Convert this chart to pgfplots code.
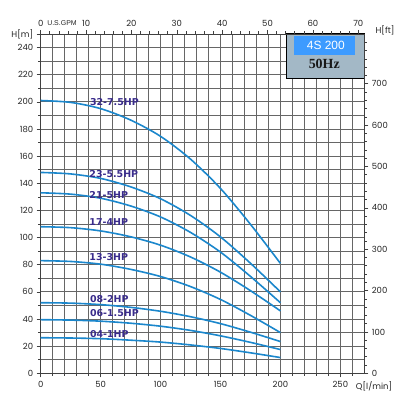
\documentclass[border=0pt]{standalone}
\usepackage{pgfplots}
\pgfplotsset{compat=1.18}
\usepackage{fontspec}
\setmainfont{Poppins}
\newfontfamily\labfont{DejaVu Sans}
\newfontfamily\narrowfont{Liberation Sans}
\newfontfamily\seriffont{Liberation Serif}
\definecolor{curve}{HTML}{1B87CC}
\definecolor{labcol}{HTML}{3A2C8C}
\definecolor{boxgray}{HTML}{A3B8C6}
\definecolor{boxblue}{HTML}{3D9BFF}
\pgfplotsset{
  common/.style={
    width=323.6bp, height=339.3bp, scale only axis,
    at={(0,0)}, anchor=south west,
    tick align=outside, major tick length=4bp, minor tick length=2.5bp,
    every tick/.append style={black!75, line width=0.6bp},
    axis line style={black!75, line width=0.8bp},
    tick label style={font=\fontsize{8.5}{10}\selectfont, text=black!85},
  },
  pc/.style={draw=curve, line width=1.6bp, solid, smooth, mark=none},
}
\begin{document}
\begin{tikzpicture}
\path[use as bounding box, fill=white] (-40.7bp,-26.7bp) rectangle (359.3bp,373.3bp);
% main axis
\begin{axis}[common,
  xmin=0, xmax=270, ymin=0, ymax=250,
  clip mode=individual,
  xtick pos=left, ytick pos=left,
  xtick={0,50,100,150,200,250},
  xticklabels={0,50,100,150,200,250},
  minor xtick={10,20,30,40,60,70,80,90,110,120,130,140,160,170,180,190,210,220,230,240,260},
  ytick={0,20,40,60,80,100,120,140,160,180,200,220,240,250},
  yticklabels={0,20,40,60,80,100,120,140,160,180,200,220,240,H[m]},
  minor ytick={10,30,50,70,90,110,130,150,170,190,210,230},
  xmajorgrids=true, ymajorgrids=true, xminorgrids=true, yminorgrids=true,
  major grid style={draw=black!60, line width=0.8bp},
  minor grid style={draw=black!60, line width=0.8bp},
]
% 32-7.5HP
\addplot[pc] coordinates {(0,201)(25,199.6)(50,195)(75,186.6)(100,174.6)(125,157.8)(150,136.2)(175,109.8)(200,81)};
% 23-5.5HP
\addplot[pc] coordinates {(0,148)(25,146.9)(50,143.6)(75,137.4)(100,128.6)(125,116.3)(150,100.5)(175,81.1)(200,60)};
% 21-5HP
\addplot[pc] coordinates {(0,133)(25,132.0)(50,129.0)(75,123.3)(100,115.2)(125,103.8)(150,89.3)(175,71.4)(200,52)};
% 17-4HP
\addplot[pc] coordinates {(0,108)(25,107.3)(50,104.9)(75,100.6)(100,94.4)(125,85.7)(150,74.5)(175,60.9)(200,46)};
% 13-3HP
\addplot[pc] coordinates {(0,83)(25,82.4)(50,80.4)(75,76.6)(100,71.3)(125,63.9)(150,54.4)(175,42.7)(200,30)};
% 08-2HP
\addplot[pc] coordinates {(0,52)(25,51.7)(50,50.6)(75,48.6)(100,45.7)(125,41.7)(150,36.6)(175,30.3)(200,23.4)};
% 06-1.5HP
\addplot[pc] coordinates {(0,39.5)(25,39.2)(50,38.4)(75,36.9)(100,34.7)(125,31.6)(150,27.6)(175,22.8)(200,17.5)};
% 04-1HP
\addplot[pc] coordinates {(0,26.2)(25,26.0)(50,25.5)(75,24.4)(100,23.0)(125,20.9)(150,18.3)(175,15.1)(200,11.6)};

\begin{scope}[every node/.style={anchor=west, inner sep=0pt, text=labcol, font=\labfont\bfseries\fontsize{9.5}{10}\selectfont}]
\node at (axis cs:41,199.5) {32-7.5HP};
\node at (axis cs:40.5,146.5) {23-5.5HP};
\node at (axis cs:40.5,131.2) {21-5HP};
\node at (axis cs:40.5,111.8) {17-4HP};
\node at (axis cs:40.5,85.6) {13-3HP};
\node at (axis cs:41,55.0) {08-2HP};
\node at (axis cs:41,44.2) {06-1.5HP};
\node at (axis cs:41,29.2) {04-1HP};
\end{scope}

\draw[fill=boxgray, draw=black, line width=1.2bp] (axis cs:205,217.5) rectangle (axis cs:270,250);
\fill[boxblue] (axis cs:211.7,234.2) rectangle (axis cs:262.6,248.3);
\node[text=white, font=\narrowfont\fontsize{12}{13}\selectfont] at (axis cs:237.9,241.4) {4S 200};
\node[text=black!90, font=\seriffont\bfseries\fontsize{14}{15}\selectfont] at (axis cs:236.6,227.8) {50Hz};
\end{axis}
% top GPM axis
\begin{axis}[common,
  xmin=0, xmax=71.326, ymin=0, ymax=1,
  hide y axis, axis x line*=top,
  xtick={0,10,20,30,40,50,60,70},
  xticklabels={0,10,20,30,40,50,60,70},
  minor xtick={2,4,6,8,12,14,16,18,22,24,26,28,32,34,36,38,42,44,46,48,52,54,56,58,62,64,66,68},
]
\end{axis}
% right ft axis
\begin{axis}[common,
  ymin=0, ymax=820.21, xmin=0, xmax=1,
  hide x axis, axis y line*=right,
  ytick={0,100,200,300,400,500,600,700},
  yticklabels={0,100,200,300,400,500,600,700},
  minor ytick={20,40,60,80,120,140,160,180,220,240,260,280,320,340,360,380,420,440,460,480,520,540,560,580,620,640,660,680,720,740,760,780,800},
]
\end{axis}
\node[font=\narrowfont\fontsize{7}{8}\selectfont, text=black!85] at (21.3bp,350.3bp) {U.S.GPM};
\node[font=\fontsize{8.5}{10}\selectfont, text=black!85] at (344.3bp,343.3bp) {H[ft]};
\node[font=\fontsize{8.5}{10}\selectfont, text=black!85] at (333.3bp,-13.2bp) {Q[l/min]};
\end{tikzpicture}
\end{document}
